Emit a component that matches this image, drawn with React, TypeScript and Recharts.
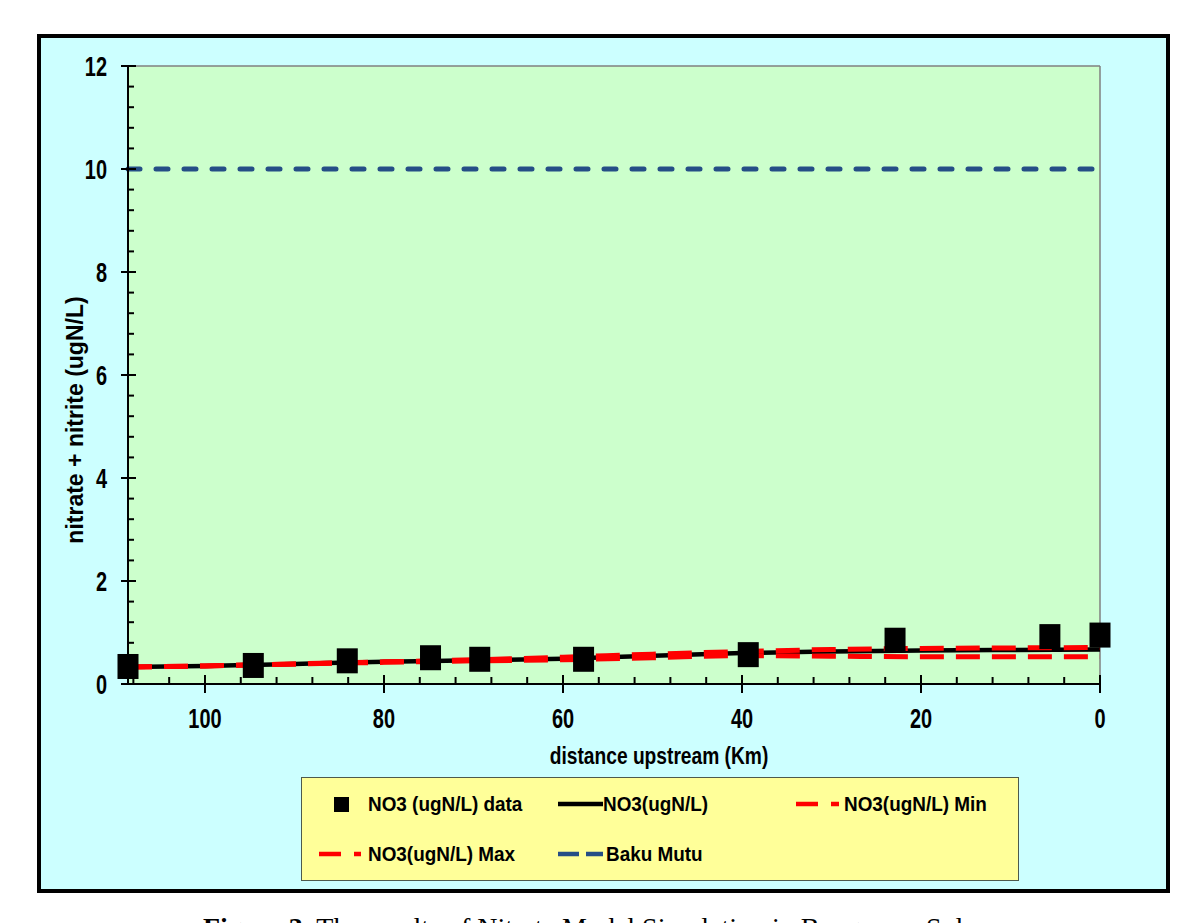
import React from 'react';
import {
  CartesianGrid,
  ComposedChart,
  Line,
  ReferenceLine,
  Scatter,
  XAxis,
  YAxis,
} from 'recharts';

// observed samples (km upstream, NO3)
const obsKm = [108.6, 94.6, 84.1, 74.8, 69.3, 57.7, 39.3, 22.9, 5.6, 0];
const obsNo3 = [0.34, 0.36, 0.45, 0.51, 0.48, 0.48, 0.57, 0.85, 0.92, 0.95];

// model output
const modelKm = [108.6, 100, 90, 80, 70, 60, 50, 40, 30, 20, 10, 0];
const modelNo3 = [0.33, 0.35, 0.39, 0.43, 0.46, 0.49, 0.55, 0.6, 0.63, 0.65, 0.66, 0.67];
const modelMax = [0.33, 0.35, 0.39, 0.43, 0.47, 0.52, 0.58, 0.63, 0.67, 0.69, 0.7, 0.71];
const modelMin = [0.33, 0.35, 0.39, 0.42, 0.45, 0.47, 0.51, 0.55, 0.54, 0.53, 0.53, 0.53];

const bakuKm = [108.6, 0];
const bakuMutu = [10, 10];

const xMajorTicks = [0, 20, 40, 60, 80, 100];
const yMajorTicks = [0, 2, 4, 6, 8, 10, 12];

const xAllTicks = Array.from({ length: 28 }, (_, i) => i * 4);
const yAllTicks = Array.from({ length: 31 }, (_, i) => Math.round(i * 4) / 10);

const zip = (km: number[], v: number[]) => km.map((k, i) => ({ km: k, v: v[i] }));

const obsData = zip(obsKm, obsNo3);
const modelData = zip(modelKm, modelNo3);
const maxData = zip(modelKm, modelMax);
const minData = zip(modelKm, modelMin);
const bakuData = zip(bakuKm, bakuMutu);

const FONT = "'Liberation Sans', Arial, sans-serif";
const RED = '#ff0000';
const BLUE = '#254e86';

// narrow bold text drawn by squeezing a regular face
const NarrowText = ({ x, y, anchor, size, sx, children }: any) => (
  <g transform={`translate(${x},${y}) scale(${sx},1)`}>
    <text x={0} y={0} textAnchor={anchor} dominantBaseline="central"
      fontFamily={FONT} fontWeight="bold" fontSize={size} fill="#000">
      {children}
    </text>
  </g>
);

const XTick = (props: any) => {
  const { x, y, payload } = props;
  const major = xMajorTicks.includes(payload.value);
  return (
    <g>
      <line x1={x} x2={x} y1={major ? y - 9 : y - 7} y2={major ? y + 9 : y} stroke="#000" strokeWidth={2} />
      {major && (
        <NarrowText x={x} y={y + 34} anchor="middle" size={27} sx={0.74}>
          {payload.value}
        </NarrowText>
      )}
    </g>
  );
};

const YTick = (props: any) => {
  const { x, y, payload } = props;
  const major = yMajorTicks.includes(payload.value);
  return (
    <g>
      <line x1={major ? x - 7 : x} x2={major ? x + 8 : x + 6} y1={y} y2={y} stroke="#000" strokeWidth={2} />
      {major && (
        <NarrowText x={x - 21} y={y} anchor="end" size={27} sx={0.74}>
          {payload.value}
        </NarrowText>
      )}
    </g>
  );
};

const Square = (props: any) => {
  const { cx, cy } = props;
  return <rect x={cx - 10.5} y={cy - 12.5} width={21} height={25} fill="#000" />;
};

const legendText: React.CSSProperties = {
  position: 'absolute',
  fontFamily: FONT,
  fontWeight: 'bold',
  fontSize: 21,
  lineHeight: '24px',
  whiteSpace: 'nowrap',
  transform: 'scaleX(0.9)',
  transformOrigin: 'left center',
};

function LegendIcon({ left, top, w, color, dash }: { left: number; top: number; w: number; color: string; dash?: string }) {
  return (
    <svg style={{ position: 'absolute', left, top: top - 5 }} width={w} height={10}>
      <line x1={0} x2={w} y1={5} y2={5} stroke={color} strokeWidth={4.5} strokeDasharray={dash} />
    </svg>
  );
}

function ChartLegend() {
  return (
    <div
      style={{
        position: 'absolute',
        left: 301,
        top: 777,
        width: 718,
        height: 104,
        boxSizing: 'border-box',
        background: '#ffff99',
        border: '1.5px solid #4d5a4d',
      }}
    >
      <div style={{ position: 'absolute', left: 32, top: 19, width: 15, height: 15, background: '#000' }} />
      <div style={{ ...legendText, left: 66, top: 14 }}>NO3 (ugN/L) data</div>
      <LegendIcon left={256} top={26} w={45} color="#000" />
      <div style={{ ...legendText, left: 301, top: 14 }}>NO3(ugN/L)</div>
      <LegendIcon left={494} top={26} w={43} color={RED} dash="22 13" />
      <div style={{ ...legendText, left: 542, top: 14 }}>NO3(ugN/L) Min</div>
      <LegendIcon left={17} top={76} w={42} color={RED} dash="22 13" />
      <div style={{ ...legendText, left: 66, top: 64 }}>NO3(ugN/L) Max</div>
      <LegendIcon left={256} top={76} w={45} color={BLUE} dash="21 7" />
      <div style={{ ...legendText, left: 304, top: 64 }}>Baku Mutu</div>
    </div>
  );
}

export default function App() {
  return (
    <div style={{ position: 'fixed', left: 0, top: 0, width: 1202, height: 923, overflow: 'hidden', background: '#fff' }}>
      <div
        style={{
          position: 'absolute',
          left: 37,
          top: 34,
          width: 1133,
          height: 859,
          boxSizing: 'border-box',
          border: '4px solid #000',
          background: '#ccffff',
        }}
      >
        <ComposedChart
          width={1125}
          height={851}
          margin={{ top: 28, right: 66, bottom: 145, left: 0 }}
        >
          <CartesianGrid fill="#ccffcc" horizontal={false} vertical={false} />
          <XAxis
            dataKey="km"
            type="number"
            domain={[0, 108.6]}
            reversed
            ticks={xAllTicks}
            interval={0}
            height={60}
            tickSize={0}
            tickMargin={0}
            tickLine={false}
            axisLine={{ stroke: '#000', strokeWidth: 2 }}
            tick={<XTick />}
            label={(p: any) => (
              <NarrowText x={p.viewBox.x + 531} y={p.viewBox.y + 72} anchor="middle" size={24} sx={0.8}>
                distance upstream (Km)
              </NarrowText>
            )}
          />
          <YAxis
            dataKey="v"
            type="number"
            domain={[0, 12]}
            ticks={yAllTicks}
            interval={0}
            width={87}
            tickSize={0}
            tickMargin={0}
            tickLine={false}
            axisLine={{ stroke: '#000', strokeWidth: 2 }}
            tick={<YTick />}
            label={() => (
              <text
                x={34}
                y={382}
                textAnchor="middle"
                dominantBaseline="central"
                transform="rotate(-90, 34, 382)"
                fontFamily={FONT}
                fontWeight="bold"
                fontSize={23}
                fill="#000"
              >
                nitrate + nitrite (ugN/L)
              </text>
            )}
          />
          <ReferenceLine y={12} stroke="#808080" strokeWidth={1.5} />
          <ReferenceLine x={0} stroke="#808080" strokeWidth={1.5} />
          <Line data={bakuData} dataKey="v" stroke={BLUE} strokeWidth={5} strokeDasharray="12 16"
            strokeLinecap="round" dot={false} isAnimationActive={false} />
          <Line data={modelData} dataKey="v" type="monotone" stroke="#000" strokeWidth={4.5}
            dot={false} isAnimationActive={false} />
          <Line data={maxData} dataKey="v" type="monotone" stroke={RED} strokeWidth={5}
            strokeDasharray="24 12" dot={false} isAnimationActive={false} />
          <Line data={minData} dataKey="v" type="monotone" stroke={RED} strokeWidth={5}
            strokeDasharray="24 12" dot={false} isAnimationActive={false} />
          <Scatter data={obsData} dataKey="v" shape={<Square />} isAnimationActive={false} />
        </ComposedChart>
      </div>
      <ChartLegend />
      <div
        style={{
          position: 'absolute',
          left: 203,
          top: 914,
          fontFamily: "'Liberation Serif', 'Times New Roman', serif",
          fontSize: 28,
          lineHeight: '28px',
          whiteSpace: 'nowrap',
          color: '#000',
        }}
      >
        <b>Figure 3.</b> The results of Nitrate Model Simulation in Bengawan Solo
      </div>
    </div>
  );
}
